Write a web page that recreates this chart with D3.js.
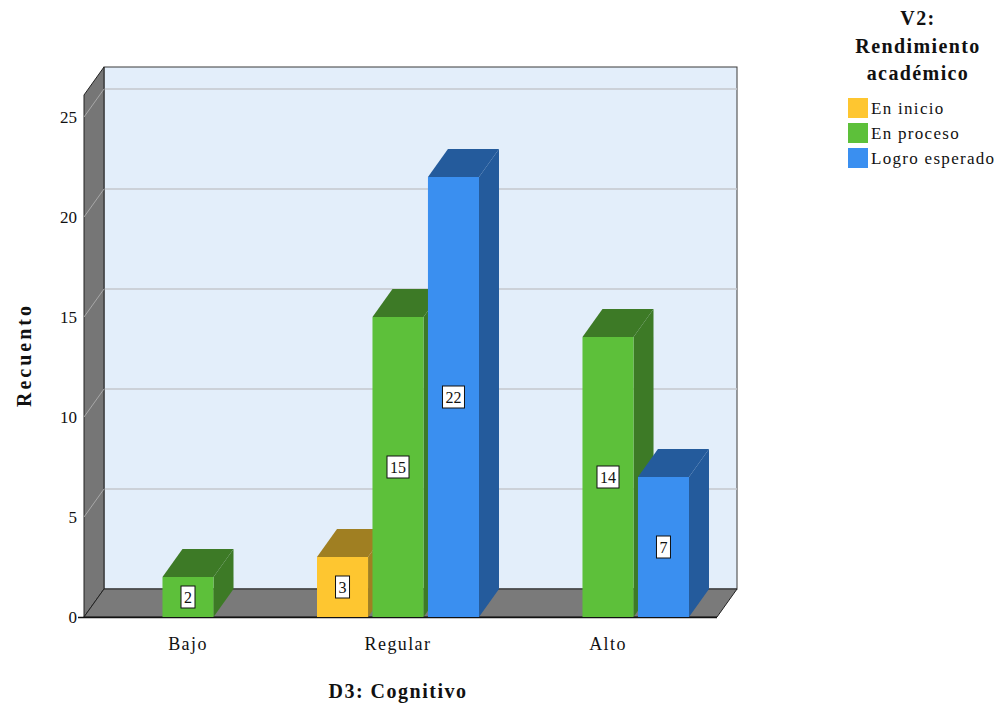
<!DOCTYPE html>
<html>
<head>
<meta charset="utf-8">
<script src="https://cdn.jsdelivr.net/npm/d3@7"></script>
<style>
  html, body { margin: 0; padding: 0; background: #fff; }
  svg { display: block; }
  text { font-family: "Liberation Serif", "Times New Roman", serif; fill: #111; }
</style>
</head>
<body>
<svg id="chart" width="1006" height="708"></svg>
<script>
// Counts of D3: Cognitivo by V2: Rendimiento académico
const categories = ["Bajo", "Regular", "Alto"];
const seriesNames = ["En inicio", "En proceso", "Logro esperado"];
const enInicio = [null, 3, null];
const enProceso = [2, 15, 14];
const logroEsperado = [null, 22, 7];
const yTicks = [0, 5, 10, 15, 20, 25];

const seriesValues = [enInicio, enProceso, logroEsperado];
const frontColors = ["#fec630", "#5dc03a", "#3a8ff0"];
const sideColors = ["#a07f22", "#3d7a26", "#245b9c"];

const svg = d3.select("#chart");

// 3D layout: front plane, plus a depth offset toward upper-right
const depthX = 20, depthY = -28;
const frontLeft = 84, frontRight = 717;
const y = d3.scaleLinear().domain([0, 26.1]).range([617, 95]);
const x = d3.scaleBand().domain(categories).range([83, 713]);
const inner = d3.scaleBand().domain(seriesNames).range([0, 162]).paddingInner(0.08);

const y0 = y(0), yTop = y(26.1);

// back wall
svg.append("rect")
  .attr("x", frontLeft + depthX).attr("y", yTop + depthY)
  .attr("width", frontRight - frontLeft).attr("height", y0 - yTop)
  .attr("fill", "#e3eefa").attr("stroke", "#3a3a3a").attr("stroke-width", 1);

// grid lines on the back wall and the left wall
const grid = svg.append("g");
yTicks.filter(t => t > 0).forEach(t => {
  grid.append("line")
    .attr("x1", frontLeft + depthX).attr("x2", frontRight + depthX)
    .attr("y1", y(t) + depthY).attr("y2", y(t) + depthY)
    .attr("stroke", "#c4c7cc").attr("stroke-width", 1.5);
});

// left wall
const leftWall = [[frontLeft, y0], [frontLeft, yTop], [frontLeft + depthX, yTop + depthY], [frontLeft + depthX, y0 + depthY]];
svg.append("polygon").attr("points", leftWall.map(p => p.join(",")).join(" "))
  .attr("fill", "#767676").attr("stroke", "#222").attr("stroke-width", 1);
yTicks.filter(t => t > 0).forEach(t => {
  svg.append("line")
    .attr("x1", frontLeft).attr("y1", y(t))
    .attr("x2", frontLeft + depthX).attr("y2", y(t) + depthY)
    .attr("stroke", "#a8a8a8").attr("stroke-width", 1);
});

// floor
const floor = [[frontLeft, y0], [frontLeft + depthX, y0 + depthY], [frontRight + depthX, y0 + depthY], [frontRight, y0]];
svg.append("polygon").attr("points", floor.map(p => p.join(",")).join(" "))
  .attr("fill", "#7a7a7a").attr("stroke", "#222").attr("stroke-width", 1);
svg.append("line").attr("x1", frontLeft - 6).attr("x2", frontRight).attr("y1", y0 + 0.5).attr("y2", y0 + 0.5)
  .attr("stroke", "#111").attr("stroke-width", 1.5);

// bars, drawn left to right so nearer faces overlap correctly
const bars = svg.append("g");
const labels = [];
categories.forEach((cat, ci) => {
  seriesNames.forEach((s, si) => {
    const v = seriesValues[si][ci];
    if (v == null) return;
    const bx = x(cat) + x.bandwidth() / 2 - 81 + inner(s);
    const bw = inner.bandwidth();
    const by = y(v);
    // top face
    bars.append("polygon")
      .attr("points", [[bx, by], [bx + depthX, by + depthY], [bx + bw + depthX, by + depthY], [bx + bw, by]].map(p => p.join(",")).join(" "))
      .attr("fill", sideColors[si]);
    // side face
    bars.append("polygon")
      .attr("points", [[bx + bw, by], [bx + bw + depthX, by + depthY], [bx + bw + depthX, y0 + depthY], [bx + bw, y0]].map(p => p.join(",")).join(" "))
      .attr("fill", sideColors[si]);
    // front face
    bars.append("rect")
      .attr("x", bx).attr("y", by).attr("width", bw).attr("height", y0 - by)
      .attr("fill", frontColors[si]);
    labels.push({ v, cx: bx + bw / 2, cy: (by + y0) / 2 });
  });
});

// value labels
const lab = svg.append("g");
labels.forEach(d => {
  const txt = String(d.v);
  const w = txt.length === 1 ? 14 : 22;
  lab.append("rect")
    .attr("x", d.cx - w / 2).attr("y", d.cy - 11).attr("width", w).attr("height", 22)
    .attr("fill", "#fff").attr("stroke", "#111").attr("stroke-width", 1);
  lab.append("text").attr("x", d.cx).attr("y", d.cy + 5.5)
    .attr("text-anchor", "middle").attr("font-size", 16).text(txt);
});

// y tick labels
svg.append("g").selectAll("text").data(yTicks).join("text")
  .attr("x", 77).attr("y", d => y(d) + 6)
  .attr("text-anchor", "end").attr("font-size", 17).text(d => d);

// category labels
svg.append("g").selectAll("text").data(categories).join("text")
  .attr("x", d => x(d) + x.bandwidth() / 2).attr("y", 650)
  .attr("text-anchor", "middle").attr("font-size", 18).attr("letter-spacing", 1.4).text(d => d);

// axis titles
svg.append("text").attr("x", 398).attr("y", 698)
  .attr("text-anchor", "middle").attr("font-size", 20).attr("letter-spacing", 1.5)
  .attr("font-weight", "bold").text("D3: Cognitivo");
svg.append("text").attr("transform", "translate(31,355) rotate(-90)")
  .attr("text-anchor", "middle").attr("font-size", 20).attr("letter-spacing", 3)
  .attr("font-weight", "bold").text("Recuento");

// legend
const legend = svg.append("g");
["V2:", "Rendimiento", "académico"].forEach((t, i) => {
  legend.append("text").attr("x", 918).attr("y", 25 + i * 27.5)
    .attr("text-anchor", "middle").attr("font-size", 20).attr("letter-spacing", 1.4)
    .attr("font-weight", "bold").text(t);
});
seriesNames.forEach((s, i) => {
  legend.append("rect").attr("x", 848).attr("y", 98 + i * 25).attr("width", 20).attr("height", 20)
    .attr("fill", frontColors[i]);
  legend.append("text").attr("x", 871).attr("y", 114 + i * 25)
    .attr("font-size", 17).attr("letter-spacing", 1.3).text(s);
});
</script>
</body>
</html>
